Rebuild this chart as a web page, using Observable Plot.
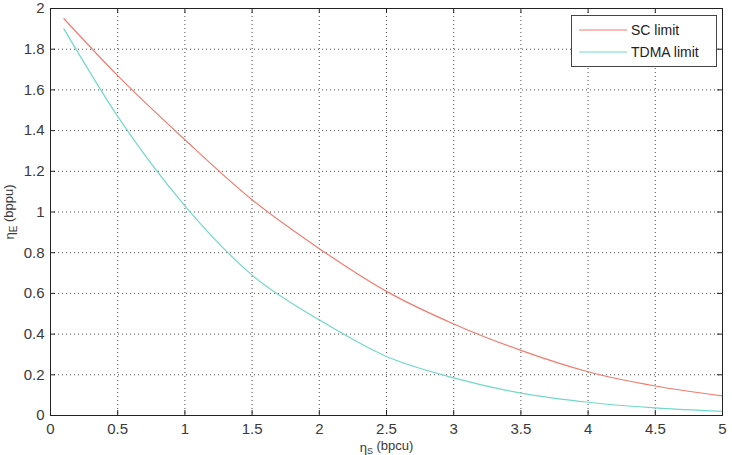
<!DOCTYPE html>
<html>
<head>
<meta charset="utf-8">
<script src="https://cdn.jsdelivr.net/npm/d3@7"></script>
<script src="https://cdn.jsdelivr.net/npm/@observablehq/plot@0.6"></script>
<style>
  html, body { margin: 0; padding: 0; background: white; }
  #wrap { position: relative; width: 732px; height: 455px; overflow: hidden; }
  #legend { position: absolute; left: 571px; top: 15px; width: 144px; height: 50px;
    border: 1px solid #444; background: white; font: 14px "Liberation Sans", Arial, sans-serif; color: #222; }
  #legend .row { position: absolute; left: 0; height: 16px; display: flex; align-items: center; }
  #legend .row span { margin-left: 4px; }
</style>
</head>
<body>
<div id="wrap"></div>
<script>
const xValues = [0.1, 0.5, 1, 1.5, 2, 2.5, 3, 3.5, 4, 4.5, 5];
const scLimit = [1.95, 1.67, 1.355, 1.06, 0.82, 0.61, 0.45, 0.32, 0.215, 0.145, 0.096];
const tdmaLimit = [1.9, 1.47, 1.03, 0.69, 0.47, 0.29, 0.185, 0.11, 0.065, 0.037, 0.02];
const seriesNames = ["SC limit", "TDMA limit"];
const seriesColors = ["#f27b6e", "#72d8c8"];
const xTicks = [0, 0.5, 1, 1.5, 2, 2.5, 3, 3.5, 4, 4.5, 5];
const yTicks = [0, 0.2, 0.4, 0.6, 0.8, 1, 1.2, 1.4, 1.6, 1.8, 2];

const data = [];
xValues.forEach((x, i) => {
  data.push({x, y: scLimit[i], s: seriesNames[0]});
  data.push({x, y: tdmaLimit[i], s: seriesNames[1]});
});

const W = 732, H = 455, mL = 50, mR = 10, mT = 8, mB = 40;
const innerW = W - mL - mR, innerH = H - mT - mB, tk = 5;
const fmt = d => String(d);
const gridStyle = {stroke: "#222", strokeOpacity: 0.8, strokeDasharray: "1,3"};
const tickStyle = {stroke: "#222", strokeWidth: 1};

const plot = Plot.plot({
  width: W,
  height: H,
  marginLeft: mL,
  marginRight: mR,
  marginTop: mT,
  marginBottom: mB,
  style: {fontFamily: '"Liberation Sans", Arial, sans-serif', fontSize: "15px", color: "#3a3a3a", background: "white"},
  x: {domain: [0, 5]},
  y: {domain: [0, 2]},
  color: {domain: seriesNames, range: seriesColors},
  marks: [
    Plot.gridX(xTicks.slice(1, -1), gridStyle),
    Plot.gridY(yTicks.slice(1, -1), gridStyle),
    // inward ticks on all four sides
    Plot.tickX(xTicks, {x: d => d, insetTop: innerH - tk, ...tickStyle}),
    Plot.tickX(xTicks, {x: d => d, insetBottom: innerH - tk, ...tickStyle}),
    Plot.tickY(yTicks, {y: d => d, insetRight: innerW - tk, ...tickStyle}),
    Plot.tickY(yTicks, {y: d => d, insetLeft: innerW - tk, ...tickStyle}),
    Plot.line(data, {x: "x", y: "y", z: "s", stroke: "s", strokeWidth: 1.2, curve: "monotone-x"}),
    Plot.axisX(xTicks, {anchor: "bottom", tickSize: 0, tickPadding: 8, tickFormat: fmt,
      label: "η (bpcu)", labelAnchor: "center", labelArrow: "none", labelOffset: 36}),
    Plot.axisY(yTicks, {anchor: "left", tickSize: 0, tickPadding: 6, tickFormat: fmt,
      label: "η (bppu)", labelAnchor: "center", labelArrow: "none", labelOffset: 46}),
    Plot.frame({stroke: "#222"})
  ]
});

document.getElementById("wrap").appendChild(plot);

// subscripts in axis labels
const svg = d3.select(plot);
svg.selectAll('g[aria-label="y-axis label"] text').each(function() {
  const t = d3.select(this).attr("font-size", "13px");
  t.text(null);
  t.append("tspan").text("η");
  t.append("tspan").attr("dy", "0.3em").attr("font-size", "10px").text("E");
  t.append("tspan").attr("dy", "-0.3em").text(" (bppu)");
});
svg.selectAll('g[aria-label="x-axis label"] text').each(function() {
  const t = d3.select(this).attr("font-size", "13px");
  t.text(null);
  t.append("tspan").text("η");
  t.append("tspan").attr("dy", "0.3em").attr("font-size", "9px").text("S");
  t.append("tspan").attr("dy", "-0.3em").text(" (bpcu)");
});

// legend
const legend = d3.select("#wrap").append("div").attr("id", "legend");
seriesNames.forEach((name, i) => {
  const row = legend.append("div").attr("class", "row").style("top", (i === 0 ? 6 : 28) + "px").style("left", "7px");
  const s = row.append("svg").attr("width", 48).attr("height", 16);
  s.append("line").attr("x1", 0).attr("x2", 48).attr("y1", 8).attr("y2", 8)
    .attr("stroke", seriesColors[i]).attr("stroke-width", 1.2);
  row.append("span").text(name);
});
</script>
</body>
</html>
